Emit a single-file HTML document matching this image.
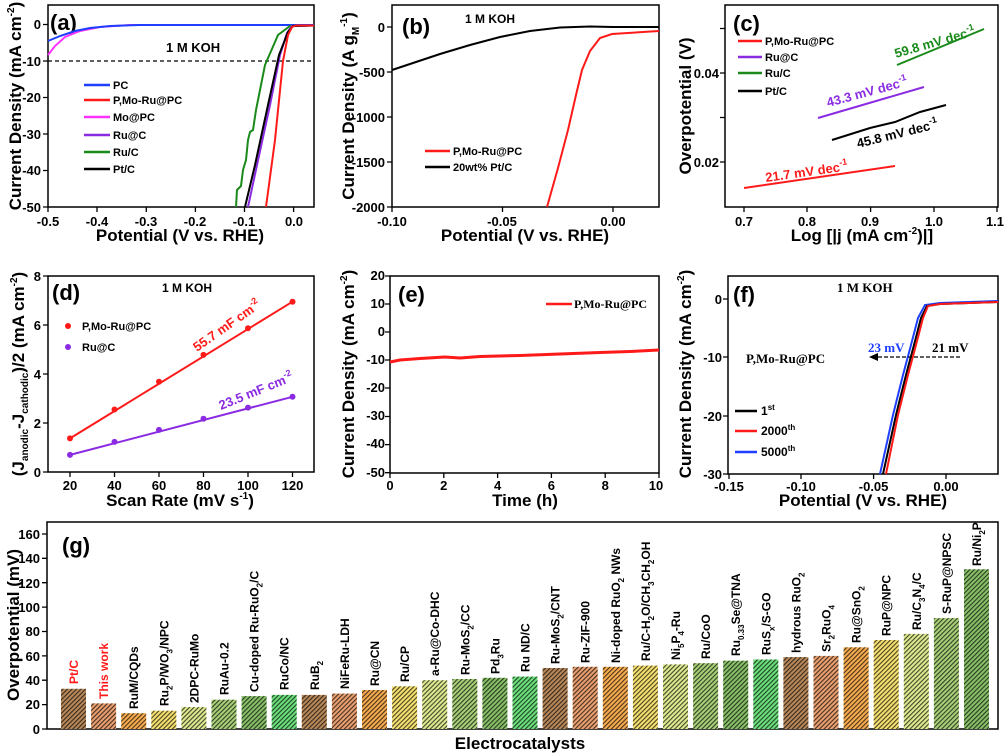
<!DOCTYPE html>
<html><head><meta charset="utf-8"><style>
html,body{margin:0;padding:0;background:#fff}
svg{display:block}
text{font-family:"Liberation Sans",sans-serif;font-weight:bold;fill:#000}
.t{font-size:13px}
.s{font-family:"Liberation Serif",serif}
.ti{font-size:17px}
.pl{font-size:22px}
</style></head><body>
<svg width="1005" height="755" viewBox="0 0 1005 755" xmlns="http://www.w3.org/2000/svg">
<defs>
<pattern id="h" width="3.2" height="3.2" patternUnits="userSpaceOnUse" patternTransform="rotate(45)">
<rect x="0" y="0" width="1.1" height="3.2" fill="#000" fill-opacity="0.7"/>
</pattern>
</defs>
<g fill="none" stroke="#000" stroke-width="1.5">
<rect x="48" y="5" width="266" height="202"/>
<rect x="392" y="5" width="267" height="202"/>
<rect x="725" y="5" width="273" height="202"/>
<rect x="48" y="276" width="266" height="196"/>
<rect x="390" y="276" width="269" height="197"/>
<rect x="728" y="276" width="270" height="198"/>
<rect x="47" y="522" width="951" height="207"/>
</g>
<g stroke="#000" stroke-width="1.3">
<path d="M43 24.5H48M43 61H48M43 97.5H48M43 134H48M43 170.5H48M43 207H48M48 207v5M97 207v5M146.3 207v5M195.4 207v5M244.5 207v5M293.6 207v5"/>
<path d="M387 27H392M387 72H392M387 117H392M387 162H392M387 207H392M392 207v5M502.5 207v5M613 207v5"/>
<path d="M720 28.5H725M720 73H725M720 117.5H725M720 162H725M744 207v5M807 207v5M870.6 207v5M934 207v5M997 207v5"/>
<path d="M43 472H48M43 423H48M43 374H48M43 325H48M43 276H48M70 472v5M114.5 472v5M159 472v5M203.5 472v5M248 472v5M292.5 472v5"/>
<path d="M385 276H390M385 304H390M385 332H390M385 360H390M385 388H390M385 416.5H390M385 444.6H390M385 472.7H390M390 473v5M443.8 473v5M497.6 473v5M551.4 473v5M605.2 473v5M659 473v5"/>
<path d="M723 299H728M723 357H728M723 416H728M723 474H728M729 474v5M801 474v5M873.6 474v5M946 474v5"/>
<path d="M42 729H47M42 704.6H47M42 680.2H47M42 655.9H47M42 631.5H47M42 607.1H47M42 582.7H47M42 558.3H47M42 534H47"/>
</g>
<!-- panel a -->
<g class="t" text-anchor="end">
<text x="41" y="29">0</text><text x="41" y="66">-10</text><text x="41" y="102">-20</text><text x="41" y="139">-30</text><text x="41" y="175">-40</text><text x="41" y="212">-50</text>
</g>
<g class="t" text-anchor="middle">
<text x="48" y="226">-0.5</text><text x="97" y="226">-0.4</text><text x="146" y="226">-0.3</text><text x="195" y="226">-0.2</text><text x="244" y="226">-0.1</text><text x="294" y="226">0.0</text>
</g>
<text class="ti" x="180" y="241" text-anchor="middle">Potential (V vs. RHE)</text>
<text class="ti" transform="translate(21,106) rotate(-90)" text-anchor="middle">Current Density (mA cm<tspan font-size="10" dy="-7">-2</tspan><tspan dy="7">)</tspan></text>
<text class="pl" x="50" y="30">(a)</text>
<text x="166" y="52" font-size="13">1 M KOH</text>
<line x1="48" y1="61" x2="314" y2="61" stroke="#000" stroke-width="1.2" stroke-dasharray="4,3"/>
<g fill="none" stroke-width="2">
<polyline stroke="#ff33ff" points="48,55 55,46 65,37 80,31 100,27 130,25 290,25"/>
<polyline stroke="#1f3fff" points="48,41 60,36 75,31 90,28 110,26 140,25 314,25"/>
<polyline stroke="#1a8a1a" points="236,207 237,190 241,186 243,170 246,160 248,140 250,132 253,130 256,110 265,65 278,35 290,26 314,25.5"/>
<polyline stroke="#8a2be2" points="248,207 257,165 270,105 280,55 287,33 292,26 314,25.5"/>
<polyline stroke="#000" points="245,207 255,165 268,105 279,55 288,32 293,26 314,25.5"/>
<polyline stroke="#ff1a1a" points="266,207 275,140 283,61 288,35 292,27 296,25.5 314,25.5"/>
</g>
<g stroke-width="2.5">
<line x1="84" y1="85" x2="110" y2="85" stroke="#1f3fff"/>
<line x1="84" y1="100" x2="110" y2="100" stroke="#ff1a1a"/>
<line x1="84" y1="117" x2="110" y2="117" stroke="#ff33ff"/>
<line x1="84" y1="135" x2="110" y2="135" stroke="#8a2be2"/>
<line x1="84" y1="152" x2="110" y2="152" stroke="#1a8a1a"/>
<line x1="84" y1="169" x2="110" y2="169" stroke="#000"/>
</g>
<g font-size="11">
<text x="113" y="89">PC</text><text x="113" y="104">P,Mo-Ru@PC</text><text x="113" y="121">Mo@PC</text><text x="113" y="139">Ru@C</text><text x="113" y="156">Ru/C</text><text x="113" y="173">Pt/C</text>
</g>
<!-- panel b -->
<g class="t" text-anchor="end">
<text x="385" y="32">0</text><text x="385" y="77">-500</text><text x="385" y="122">-1000</text><text x="385" y="167">-1500</text><text x="385" y="212">-2000</text>
</g>
<g class="t" text-anchor="middle">
<text x="392" y="226">-0.10</text><text x="502" y="226">-0.05</text><text x="613" y="226">0.00</text>
</g>
<text class="ti" x="525" y="241" text-anchor="middle">Potential (V vs. RHE)</text>
<text class="ti" transform="translate(354,106) rotate(-90)" text-anchor="middle">Current Density (A g<tspan font-size="10" dy="5">M</tspan><tspan font-size="10" dy="-12">-1</tspan><tspan dy="7">)</tspan></text>
<text class="pl" x="402" y="34">(b)</text>
<text x="465" y="23" font-size="12">1 M KOH</text>
<polyline fill="none" stroke="#000" stroke-width="2" points="392,70 410,64 440,54 470,45 500,37 530,31 560,27.5 590,26.5 613,27 659,27"/>
<polyline fill="none" stroke="#ff1a1a" stroke-width="2" points="547,207 558,168 568,130 576,95 582,70 590,51 600,38 612,34 659,31"/>
<line x1="425" y1="151" x2="450" y2="151" stroke="#ff1a1a" stroke-width="2.5"/>
<line x1="425" y1="167" x2="450" y2="167" stroke="#000" stroke-width="2.5"/>
<text x="453" y="155" font-size="11">P,Mo-Ru@PC</text>
<text x="453" y="171" font-size="11">20wt% Pt/C</text>
<!-- panel c -->
<g class="t" text-anchor="end"><text x="719" y="78">0.04</text><text x="719" y="167">0.02</text></g>
<g class="t" text-anchor="middle">
<text x="744" y="226">0.7</text><text x="807" y="226">0.8</text><text x="870" y="226">0.9</text><text x="934" y="226">1.0</text><text x="995" y="226">1.1</text>
</g>
<text class="ti" x="862" y="241" text-anchor="middle">Log [|j (mA cm<tspan font-size="10" dy="-7">-2</tspan><tspan dy="7">)|]</tspan></text>
<text class="ti" transform="translate(691,106) rotate(-90)" text-anchor="middle">Overpotential (V)</text>
<text class="pl" x="733" y="31">(c)</text>
<g stroke-width="2.5">
<line x1="738" y1="41" x2="762" y2="41" stroke="#ff1a1a"/>
<line x1="738" y1="57" x2="762" y2="57" stroke="#8a2be2"/>
<line x1="738" y1="73" x2="762" y2="73" stroke="#1a8a1a"/>
<line x1="738" y1="91" x2="762" y2="91" stroke="#000"/>
</g>
<g font-size="11"><text x="765" y="45">P,Mo-Ru@PC</text><text x="765" y="61">Ru@C</text><text x="765" y="77">Ru/C</text><text x="765" y="95">Pt/C</text></g>
<g stroke-width="2">
<line x1="744" y1="188" x2="895" y2="166" stroke="#ff1a1a"/>
<line x1="818" y1="118" x2="924" y2="87" stroke="#8a2be2"/>
<polyline fill="none" points="832,140 870,128 895,122 920,112 946,105" stroke="#000"/>
<line x1="897" y1="65" x2="984" y2="29" stroke="#1a8a1a"/>
</g>
<text font-size="13" style="fill:#ff1a1a" transform="translate(766,182) rotate(-8)">21.7 mV dec<tspan font-size="9" dy="-6">-1</tspan></text>
<text font-size="13" style="fill:#8a2be2" transform="translate(828,107) rotate(-15)">43.3 mV dec<tspan font-size="9" dy="-6">-1</tspan></text>
<text font-size="13" transform="translate(858,148) rotate(-14)">45.8 mV dec<tspan font-size="9" dy="-6">-1</tspan></text>
<text font-size="13" style="fill:#1a8a1a" transform="translate(896,58) rotate(-16)">59.8 mV dec<tspan font-size="9" dy="-6">-1</tspan></text>
<!-- panel d -->
<g class="t" text-anchor="end">
<text x="41" y="477">0</text><text x="41" y="428">2</text><text x="41" y="379">4</text><text x="41" y="330">6</text><text x="41" y="281">8</text>
</g>
<g class="t" text-anchor="middle">
<text x="70" y="490">20</text><text x="114.5" y="490">40</text><text x="159" y="490">60</text><text x="203.5" y="490">80</text><text x="248" y="490">100</text><text x="292.5" y="490">120</text>
</g>
<text class="ti" x="180" y="506" text-anchor="middle">Scan Rate (mV s<tspan font-size="10" dy="-7">-1</tspan><tspan dy="7">)</tspan></text>
<text class="ti" transform="translate(24,374) rotate(-90)" text-anchor="middle">(J<tspan font-size="10" dy="4">anodic</tspan><tspan dy="-4">-J</tspan><tspan font-size="10" dy="4">cathodic</tspan><tspan dy="-4">)/2 (mA cm</tspan><tspan font-size="10" dy="-7">-2</tspan><tspan dy="7">)</tspan></text>
<text class="pl" x="52" y="300">(d)</text>
<text x="162" y="292" font-size="12">1 M KOH</text>
<line x1="70" y1="438.4" x2="292.5" y2="301.7" stroke="#ff1a1a" stroke-width="2"/>
<line x1="70" y1="454.9" x2="292.5" y2="396.8" stroke="#8a2be2" stroke-width="2"/>
<g fill="#ff1a1a"><circle cx="70" cy="438.4" r="3"/><circle cx="114.5" cy="409.5" r="3"/><circle cx="159" cy="381.8" r="3"/><circle cx="203.5" cy="354.9" r="3"/><circle cx="248" cy="328.2" r="3"/><circle cx="292.5" cy="301.7" r="3"/><circle cx="68" cy="326" r="3"/></g>
<g fill="#8a2be2"><circle cx="70" cy="454.9" r="3"/><circle cx="114.5" cy="441.9" r="3"/><circle cx="159" cy="429.9" r="3"/><circle cx="203.5" cy="418.8" r="3"/><circle cx="248" cy="407.6" r="3"/><circle cx="292.5" cy="396.8" r="3"/><circle cx="68" cy="347" r="3"/></g>
<text x="82" y="330" font-size="11">P,Mo-Ru@PC</text><text x="82" y="351" font-size="11">Ru@C</text>
<text font-size="13" style="fill:#ff1a1a" transform="translate(197,352) rotate(-35)">55.7 mF cm<tspan font-size="9" dy="-6">-2</tspan></text>
<text font-size="13" style="fill:#8a2be2" transform="translate(221,410) rotate(-22)">23.5 mF cm<tspan font-size="9" dy="-6">-2</tspan></text>
<!-- panel e -->
<g class="t s" text-anchor="end" font-size="12">
<text x="385" y="280">20</text><text x="385" y="308">10</text><text x="385" y="336">0</text><text x="385" y="364">-10</text><text x="385" y="392">-20</text><text x="385" y="420">-30</text><text x="385" y="448">-40</text><text x="385" y="477">-50</text>
</g>
<g class="t s" text-anchor="middle">
<text x="390" y="490">0</text><text x="443.8" y="490">2</text><text x="497.6" y="490">4</text><text x="551.4" y="490">6</text><text x="605.2" y="490">8</text><text x="656" y="490">10</text>
</g>
<text class="ti" x="525" y="506" text-anchor="middle">Time (h)</text>
<text class="ti" transform="translate(354,374) rotate(-90)" text-anchor="middle">Current Density (mA cm<tspan font-size="10" dy="-7">-2</tspan><tspan dy="7">)</tspan></text>
<text class="pl" x="398" y="302">(e)</text>
<polyline fill="none" stroke="#ff1a1a" stroke-width="3" points="390,362 400,360 420,358.5 445,357 460,358 480,356.5 520,355.5 560,354 600,352.5 630,351.5 659,350"/>
<line x1="546" y1="304" x2="572" y2="304" stroke="#ff1a1a" stroke-width="2.5"/>
<text class="s" x="574" y="308" font-size="12">P,Mo-Ru@PC</text>
<!-- panel f -->
<g class="t s" text-anchor="end">
<text x="722" y="304">0</text><text x="722" y="362">-10</text><text x="722" y="421">-20</text><text x="722" y="479">-30</text>
</g>
<g class="t s" text-anchor="middle">
<text x="729" y="491">-0.15</text><text x="801" y="491">-0.10</text><text x="873.6" y="491">-0.05</text><text x="946" y="491">0.00</text>
</g>
<text class="ti" x="863" y="506" text-anchor="middle">Potential (V vs. RHE)</text>
<text class="ti" transform="translate(691,374) rotate(-90)" text-anchor="middle">Current Density (mA cm<tspan font-size="10" dy="-7">-2</tspan><tspan dy="7">)</tspan></text>
<text class="pl" x="733" y="302">(f)</text>
<text class="s" x="837" y="292" font-size="13">1 M KOH</text>
<g fill="none" stroke-width="2">
<polyline stroke="#1f3fff" points="880,474 893,415 903,375 911,345 918,318 925,305 940,303 998,301"/>
<polyline stroke="#000" points="883,474 896,415 906,375 914,345 921,318 927,306 940,304 998,302"/>
<polyline stroke="#ff1a1a" points="886,474 898,415 908,375 916,345 923,318 928,306 940,304 998,302"/>
</g>
<line x1="960" y1="357" x2="877" y2="357" stroke="#000" stroke-width="1.3" stroke-dasharray="4,2"/>
<path d="M869 357 L878 353 L878 361 Z" fill="#000"/>
<text class="s" x="868" y="352" font-size="13" style="fill:#1f3fff">23 mV</text>
<text class="s" x="932" y="352" font-size="13">21 mV</text>
<text class="s" x="746" y="363" font-size="13">P,Mo-Ru@PC</text>
<g stroke-width="2.5">
<line x1="735" y1="411" x2="757" y2="411" stroke="#000"/>
<line x1="735" y1="431" x2="757" y2="431" stroke="#ff1a1a"/>
<line x1="735" y1="452" x2="757" y2="452" stroke="#1f3fff"/>
</g>
<g class="s" font-size="12">
<text x="761" y="415">1<tspan font-size="8" dy="-5">st</tspan></text>
<text x="761" y="435">2000<tspan font-size="8" dy="-5">th</tspan></text>
<text x="761" y="456">5000<tspan font-size="8" dy="-5">th</tspan></text>
</g>
<!-- panel g -->
<g class="t" text-anchor="end">
<text x="40" y="734">0</text><text x="40" y="709">20</text><text x="40" y="685">40</text><text x="40" y="661">60</text><text x="40" y="636">80</text><text x="40" y="612">100</text><text x="40" y="588">120</text><text x="40" y="563">140</text><text x="40" y="539">160</text>
</g>
<text class="ti" transform="translate(19,625) rotate(-90)" text-anchor="middle" font-size="18">Overpotential (mV)</text>
<text class="ti" x="520" y="749" text-anchor="middle" font-size="18">Electrocatalysts</text>
<text class="pl" x="62" y="553">(g)</text>
<g>
<rect x="61" y="688.8" width="25" height="40.2" fill="#b8885a"/>
<rect x="91.1" y="703.4" width="25" height="25.6" fill="#eaa070"/>
<rect x="121.2" y="713.2" width="25" height="15.8" fill="#f8ac50"/>
<rect x="151.3" y="710.7" width="25" height="18.3" fill="#f6e070"/>
<rect x="181.4" y="707.1" width="25" height="21.9" fill="#dfea90"/>
<rect x="211.5" y="699.7" width="25" height="29.3" fill="#a8d078"/>
<rect x="241.6" y="696.1" width="25" height="32.9" fill="#88c068"/>
<rect x="271.7" y="694.9" width="25" height="34.1" fill="#6ce07c"/>
<rect x="301.8" y="694.9" width="25" height="34.1" fill="#b8885a"/>
<rect x="331.9" y="693.6" width="25" height="35.4" fill="#eaa070"/>
<rect x="362" y="690" width="25" height="39" fill="#f8ac50"/>
<rect x="392.1" y="686.3" width="25" height="42.7" fill="#f6e070"/>
<rect x="422.2" y="680.2" width="25" height="48.8" fill="#dfea90"/>
<rect x="452.3" y="679" width="25" height="50" fill="#a8d078"/>
<rect x="482.4" y="677.8" width="25" height="51.2" fill="#88c068"/>
<rect x="512.5" y="676.6" width="25" height="52.4" fill="#6ce07c"/>
<rect x="542.6" y="668" width="25" height="61" fill="#b8885a"/>
<rect x="572.7" y="666.8" width="25" height="62.2" fill="#eaa070"/>
<rect x="602.8" y="666.8" width="25" height="62.2" fill="#f8ac50"/>
<rect x="632.9" y="665.6" width="25" height="63.4" fill="#f6e070"/>
<rect x="663" y="664.4" width="25" height="64.6" fill="#dfea90"/>
<rect x="693.1" y="663.2" width="25" height="65.8" fill="#a8d078"/>
<rect x="723.2" y="660.7" width="25" height="68.3" fill="#88c068"/>
<rect x="753.3" y="659.5" width="25" height="69.5" fill="#6ce07c"/>
<rect x="783.4" y="657.1" width="25" height="71.9" fill="#b8885a"/>
<rect x="813.5" y="655.9" width="25" height="73.1" fill="#eaa070"/>
<rect x="843.6" y="647.3" width="25" height="81.7" fill="#f8ac50"/>
<rect x="873.7" y="640" width="25" height="89" fill="#f6e070"/>
<rect x="903.8" y="633.9" width="25" height="95.1" fill="#dfea90"/>
<rect x="933.9" y="618.1" width="25" height="110.9" fill="#a8d078"/>
<rect x="964" y="569.3" width="25" height="159.7" fill="#88c068"/>
</g>
<g fill="url(#h)">
<rect x="61" y="688.8" width="25" height="40.2"/><rect x="91.1" y="703.4" width="25" height="25.6"/><rect x="121.2" y="713.2" width="25" height="15.8"/><rect x="151.3" y="710.7" width="25" height="18.3"/><rect x="181.4" y="707.1" width="25" height="21.9"/><rect x="211.5" y="699.7" width="25" height="29.3"/><rect x="241.6" y="696.1" width="25" height="32.9"/><rect x="271.7" y="694.9" width="25" height="34.1"/><rect x="301.8" y="694.9" width="25" height="34.1"/><rect x="331.9" y="693.6" width="25" height="35.4"/><rect x="362" y="690" width="25" height="39"/><rect x="392.1" y="686.3" width="25" height="42.7"/><rect x="422.2" y="680.2" width="25" height="48.8"/><rect x="452.3" y="679" width="25" height="50"/><rect x="482.4" y="677.8" width="25" height="51.2"/><rect x="512.5" y="676.6" width="25" height="52.4"/><rect x="542.6" y="668" width="25" height="61"/><rect x="572.7" y="666.8" width="25" height="62.2"/><rect x="602.8" y="666.8" width="25" height="62.2"/><rect x="632.9" y="665.6" width="25" height="63.4"/><rect x="663" y="664.4" width="25" height="64.6"/><rect x="693.1" y="663.2" width="25" height="65.8"/><rect x="723.2" y="660.7" width="25" height="68.3"/><rect x="753.3" y="659.5" width="25" height="69.5"/><rect x="783.4" y="657.1" width="25" height="71.9"/><rect x="813.5" y="655.9" width="25" height="73.1"/><rect x="843.6" y="647.3" width="25" height="81.7"/><rect x="873.7" y="640" width="25" height="89"/><rect x="903.8" y="633.9" width="25" height="95.1"/><rect x="933.9" y="618.1" width="25" height="110.9"/><rect x="964" y="569.3" width="25" height="159.7"/>
</g>
<g font-size="12">
<text transform="translate(78,684) rotate(-90)" style="fill:#ff1a1a">Pt/C</text>
<text transform="translate(108.1,699) rotate(-90)" style="fill:#ff1a1a">This work</text>
<text transform="translate(138.2,709) rotate(-90)">RuM/CQDs</text>
<text transform="translate(168.3,706) rotate(-90)">Ru<tspan font-size="8" dy="4">2</tspan><tspan dy="-4">P/WO</tspan><tspan font-size="8" dy="4">3</tspan><tspan dy="-4">/NPC</tspan></text>
<text transform="translate(198.4,703) rotate(-90)">2DPC-RuMo</text>
<text transform="translate(228.5,695) rotate(-90)">RuAu-0.2</text>
<text transform="translate(258.6,692) rotate(-90)">Cu-doped Ru-RuO<tspan font-size="8" dy="4">2</tspan><tspan dy="-4">/C</tspan></text>
<text transform="translate(288.7,690) rotate(-90)">RuCo/NC</text>
<text transform="translate(318.8,690) rotate(-90)">RuB<tspan font-size="8" dy="4">2</tspan></text>
<text transform="translate(348.9,689) rotate(-90)">NiFeRu-LDH</text>
<text transform="translate(379,686) rotate(-90)">Ru@CN</text>
<text transform="translate(409.1,682) rotate(-90)">Ru/CP</text>
<text transform="translate(439.2,676) rotate(-90)">a-Ru@Co-DHC</text>
<text transform="translate(469.3,675) rotate(-90)">Ru-MoS<tspan font-size="8" dy="4">2</tspan><tspan dy="-4">/CC</tspan></text>
<text transform="translate(499.4,674) rotate(-90)">Pd<tspan font-size="8" dy="4">3</tspan><tspan dy="-4">Ru</tspan></text>
<text transform="translate(529.5,672) rotate(-90)">Ru ND/C</text>
<text transform="translate(559.6,664) rotate(-90)">Ru-MoS<tspan font-size="8" dy="4">2</tspan><tspan dy="-4">/CNT</tspan></text>
<text transform="translate(589.7,663) rotate(-90)">Ru-ZIF-900</text>
<text transform="translate(619.8,663) rotate(-90)">Ni-doped RuO<tspan font-size="8" dy="4">2</tspan><tspan dy="-4"> NWs</tspan></text>
<text transform="translate(649.9,661) rotate(-90)">Ru/C-H<tspan font-size="8" dy="4">2</tspan><tspan dy="-4">O/CH</tspan><tspan font-size="8" dy="4">3</tspan><tspan dy="-4">CH</tspan><tspan font-size="8" dy="4">2</tspan><tspan dy="-4">OH</tspan></text>
<text transform="translate(680,660) rotate(-90)">Ni<tspan font-size="8" dy="4">5</tspan><tspan dy="-4">P</tspan><tspan font-size="8" dy="4">4</tspan><tspan dy="-4">-Ru</tspan></text>
<text transform="translate(710.1,659) rotate(-90)">Ru/CoO</text>
<text transform="translate(740.2,656) rotate(-90)">Ru<tspan font-size="8" dy="4">0.33</tspan><tspan dy="-4">Se@TNA</tspan></text>
<text transform="translate(770.3,655) rotate(-90)">RuS<tspan font-size="8" dy="4">x</tspan><tspan dy="-4">/S-GO</tspan></text>
<text transform="translate(800.4,653) rotate(-90)">hydrous RuO<tspan font-size="8" dy="4">2</tspan></text>
<text transform="translate(830.5,652) rotate(-90)">Sr<tspan font-size="8" dy="4">2</tspan><tspan dy="-4">RuO</tspan><tspan font-size="8" dy="4">4</tspan></text>
<text transform="translate(860.6,643) rotate(-90)">Ru@SnO<tspan font-size="8" dy="4">2</tspan></text>
<text transform="translate(890.7,636) rotate(-90)">RuP@NPC</text>
<text transform="translate(920.8,630) rotate(-90)">Ru/C<tspan font-size="8" dy="4">3</tspan><tspan dy="-4">N</tspan><tspan font-size="8" dy="4">4</tspan><tspan dy="-4">/C</tspan></text>
<text transform="translate(950.9,614) rotate(-90)">S-RuP@NPSC</text>
<text transform="translate(981,566) rotate(-90)">Ru/Ni<tspan font-size="8" dy="4">2</tspan><tspan dy="-4">P</tspan></text>
</g>
</svg>
</body></html>
